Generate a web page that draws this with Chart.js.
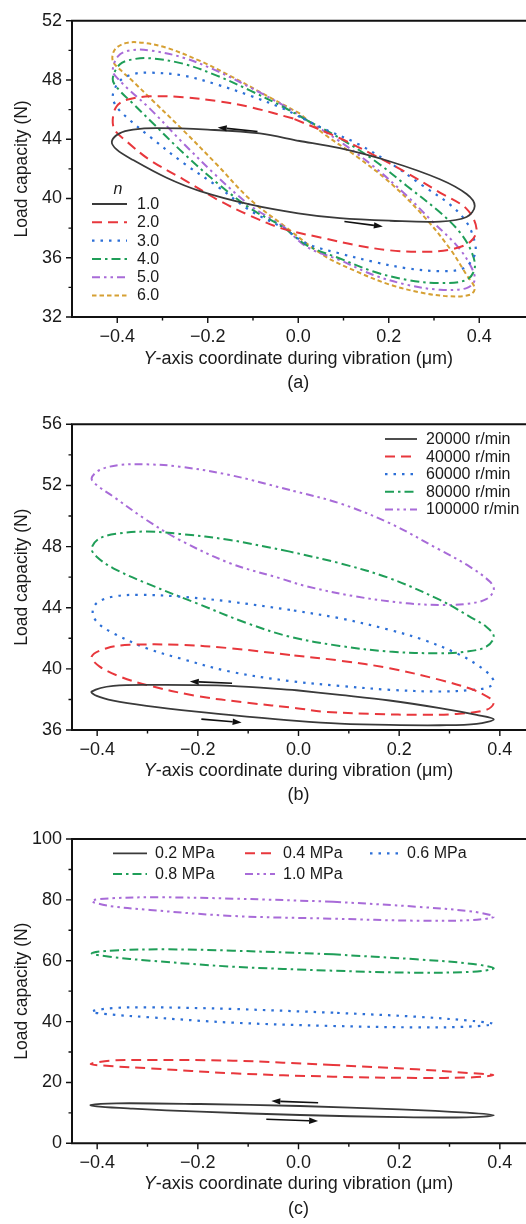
<!DOCTYPE html>
<html><head><meta charset="utf-8">
<script src="https://cdn.jsdelivr.net/npm/chart.js@4.4.0/dist/chart.umd.min.js"></script>
<style>
html,body{margin:0;padding:0;background:#fff;overflow:hidden;width:526px;height:1224px;}
canvas{position:absolute;left:0;display:block;}
</style></head><body>
<canvas id="ca" width="526" height="400" style="top:0px"></canvas>
<canvas id="cb" width="526" height="410" style="top:400px"></canvas>
<canvas id="cc" width="526" height="414" style="top:810px"></canvas>
<script>
// ---------- styles per series ----------
const seriesColors = ['#3a3a3a','#e8373c','#2c6fd7','#1f9e58','#a86bd8','#d6a033'];
const seriesDashes = [[],[10,6],[2.5,6],[9,4,2.5,4],[8,4,2.5,4,2.5,4],[4.5,3]];
const seriesWidths = [1.8,2,2.2,2,2,2];

// ---------- labels ----------
const labelsA = ['1.0','2.0','3.0','4.0','5.0','6.0'];
const labelsB = ['20000 r/min','40000 r/min','60000 r/min','80000 r/min','100000 r/min'];
const labelsC = ['0.2 MPa','0.4 MPa','0.6 MPa','0.8 MPa','1.0 MPa'];

// ---------- ticks ----------
const xTicks = [-0.4,-0.2,0,0.2,0.4];
const xMinor = [-0.3,-0.1,0.1,0.3];
const yTicksA = [32,36,40,44,48,52];
const yMinorA = [34,38,42,46,50];
const yTicksB = [36,40,44,48,52,56];
const yMinorB = [38,42,46,50,54];
const yTicksC = [0,20,40,60,80,100];
const yMinorC = [10,30,50,70,90];

// ---------- panel (a) loops: [Y coordinate (um), load (N)] ----------
const a1 = [[0.0,43.9],[-0.085,44.4],[-0.2,44.65],[-0.313,44.75],[-0.365,44.65],[-0.395,44.4],[-0.412,43.85],[-0.401,43.3],[-0.365,42.6],[-0.291,41.4],[-0.217,40.5],[-0.107,39.6],[0.0,39.0],[0.092,38.67],[0.203,38.5],[0.313,38.44],[0.372,38.75],[0.390,39.5],[0.372,40.3],[0.313,41.3],[0.203,42.5],[0.092,43.4],[0.0,43.9]];
const a2 = [[-0.011,45.4],[-0.107,46.18],[-0.18,46.58],[-0.254,46.84],[-0.328,46.9],[-0.379,46.67],[-0.402,46.2],[-0.41,45.3],[-0.405,44.6],[-0.379,43.85],[-0.328,42.6],[-0.254,41.3],[-0.18,39.95],[-0.107,38.85],[-0.033,37.95],[0.055,37.33],[0.129,36.84],[0.203,36.5],[0.276,36.4],[0.335,36.55],[0.38,37.07],[0.394,37.95],[0.372,39.3],[0.313,40.4],[0.24,41.73],[0.166,42.95],[0.092,44.07],[-0.011,45.4]];
const a3 = [[0.004,45.5],[-0.033,46.07],[-0.107,46.95],[-0.18,47.7],[-0.254,48.3],[-0.328,48.5],[-0.365,48.4],[-0.394,47.95],[-0.41,46.95],[-0.401,46.18],[-0.372,45.29],[-0.328,44.18],[-0.254,42.4],[-0.18,40.85],[-0.107,39.2],[-0.033,38.0],[0.019,36.95],[0.092,36.29],[0.166,35.73],[0.24,35.29],[0.313,35.1],[0.365,35.29],[0.39,36.18],[0.39,37.07],[0.372,38.4],[0.335,39.6],[0.276,40.85],[0.203,42.4],[0.129,43.73],[0.055,44.73],[0.004,45.5]];
const a4 = [[0.019,45.29],[-0.033,46.18],[-0.107,47.3],[-0.18,48.3],[-0.254,49.1],[-0.328,49.47],[-0.365,49.4],[-0.394,49.07],[-0.41,48.07],[-0.398,47.4],[-0.365,46.4],[-0.328,45.29],[-0.254,43.07],[-0.18,41.07],[-0.107,39.35],[-0.033,38.05],[0.019,36.84],[0.092,35.95],[0.166,35.07],[0.24,34.51],[0.313,34.29],[0.372,34.51],[0.39,35.29],[0.383,36.4],[0.357,37.73],[0.313,39.07],[0.24,40.85],[0.166,42.62],[0.092,44.07],[0.019,45.29]];
const a5 = [[0.019,45.29],[-0.033,46.29],[-0.107,47.51],[-0.18,48.62],[-0.254,49.51],[-0.328,50.0],[-0.372,50.0],[-0.398,49.62],[-0.41,48.62],[-0.398,48.07],[-0.372,47.29],[-0.328,46.07],[-0.254,43.73],[-0.18,41.51],[-0.107,39.55],[-0.033,38.1],[0.019,36.73],[0.092,35.84],[0.166,34.84],[0.24,34.18],[0.313,33.84],[0.372,33.95],[0.39,34.51],[0.38,35.51],[0.35,36.84],[0.298,38.4],[0.24,40.18],[0.166,42.18],[0.092,43.85],[0.019,45.29]];
const a6 = [[0.004,45.73],[-0.07,46.95],[-0.144,48.18],[-0.217,49.29],[-0.291,50.18],[-0.342,50.51],[-0.379,50.51],[-0.405,50.07],[-0.41,49.3],[-0.39,48.6],[-0.365,47.9],[-0.328,46.8],[-0.254,44.6],[-0.18,42.3],[-0.107,39.95],[-0.033,38.2],[0.055,36.18],[0.129,35.07],[0.203,34.18],[0.276,33.62],[0.335,33.4],[0.38,33.51],[0.39,33.95],[0.372,34.84],[0.335,36.62],[0.276,38.85],[0.203,41.07],[0.129,42.84],[0.055,44.4],[0.004,45.73]];

// ---------- panel (b) loops ----------
const b1 = [[-0.004,38.6],[-0.136,38.89],[-0.269,38.95],[-0.368,38.89],[-0.411,38.51],[-0.401,38.23],[-0.368,37.92],[-0.302,37.58],[-0.203,37.2],[-0.103,36.88],[-0.004,36.6],[0.082,36.42],[0.181,36.33],[0.281,36.31],[0.354,36.4],[0.388,36.71],[0.354,36.99],[0.281,37.43],[0.181,37.93],[0.082,38.3],[-0.004,38.6]];
const b2 = [[-0.017,40.91],[-0.136,41.35],[-0.236,41.57],[-0.335,41.57],[-0.381,41.35],[-0.411,40.8],[-0.395,40.15],[-0.355,39.5],[-0.302,38.95],[-0.203,38.23],[-0.103,37.79],[-0.004,37.43],[0.049,37.2],[0.148,37.05],[0.248,36.99],[0.314,37.05],[0.373,37.32],[0.388,37.76],[0.38,38.08],[0.347,38.63],[0.281,39.28],[0.181,40.04],[0.082,40.54],[-0.017,40.91]];
const b3 = [[-0.017,43.86],[-0.136,44.4],[-0.236,44.73],[-0.315,44.84],[-0.368,44.73],[-0.401,44.3],[-0.409,43.64],[-0.398,42.98],[-0.368,42.33],[-0.302,41.35],[-0.236,40.69],[-0.136,39.82],[-0.017,39.2],[0.082,38.89],[0.181,38.63],[0.281,38.52],[0.347,38.63],[0.38,38.84],[0.387,39.28],[0.36,40.15],[0.314,41.02],[0.248,41.9],[0.181,42.55],[0.082,43.31],[-0.017,43.86]];
const b4 = [[-0.017,47.67],[-0.136,48.43],[-0.236,48.83],[-0.302,48.98],[-0.355,48.87],[-0.395,48.54],[-0.411,47.89],[-0.401,47.34],[-0.368,46.58],[-0.302,45.6],[-0.203,44.3],[-0.103,43.0],[-0.017,42.1],[0.082,41.5],[0.181,41.13],[0.281,41.02],[0.334,41.13],[0.373,41.45],[0.388,42.11],[0.373,42.76],[0.34,43.42],[0.281,44.51],[0.181,45.93],[0.082,46.91],[-0.017,47.67]];
const b5 = [[-0.017,51.7],[-0.136,52.68],[-0.236,53.23],[-0.302,53.38],[-0.355,53.34],[-0.395,53.01],[-0.411,52.47],[-0.401,52.03],[-0.368,51.27],[-0.302,49.74],[-0.236,48.43],[-0.136,46.91],[-0.037,45.93],[0.016,45.4],[0.115,44.73],[0.215,44.29],[0.281,44.18],[0.334,44.25],[0.373,44.56],[0.388,45.16],[0.38,45.71],[0.34,46.69],[0.281,47.78],[0.181,49.53],[0.082,50.83],[-0.017,51.7]];

// ---------- panel (c) loops ----------
const c1 = [[0.003,12.26],[-0.196,12.91],[-0.362,13.14],[-0.413,12.58],[-0.395,12.03],[-0.329,11.37],[-0.196,10.38],[0.003,9.3],[0.201,8.6],[0.334,8.54],[0.388,9.2],[0.334,10.06],[0.201,11.17],[0.003,12.26]];
const c2 = [[0.069,25.73],[-0.13,27.15],[-0.295,27.37],[-0.375,27.15],[-0.413,26.06],[-0.375,25.4],[-0.295,24.64],[-0.13,23.0],[0.069,21.89],[0.234,21.5],[0.347,21.69],[0.387,22.44],[0.347,23.0],[0.234,24.31],[0.069,25.73]];
const c3 = [[0.069,42.92],[-0.13,44.13],[-0.295,44.69],[-0.375,44.36],[-0.411,43.25],[-0.375,42.38],[-0.295,41.4],[-0.13,39.64],[0.069,38.55],[0.234,38.1],[0.334,38.32],[0.387,39.2],[0.347,40.19],[0.234,41.6],[0.069,42.92]];
const c4 = [[0.069,62.1],[-0.13,63.3],[-0.262,63.74],[-0.375,63.3],[-0.411,62.44],[-0.375,61.33],[-0.295,60.01],[-0.13,58.04],[0.069,56.72],[0.234,56.07],[0.347,56.4],[0.388,57.51],[0.347,58.92],[0.234,60.46],[0.069,62.1]];
const c5 = [[0.069,79.4],[-0.13,80.4],[-0.276,80.84],[-0.375,80.5],[-0.411,79.62],[-0.375,77.98],[-0.295,76.67],[-0.13,74.7],[0.069,73.81],[0.234,73.16],[0.347,73.38],[0.388,74.47],[0.347,76.1],[0.234,77.75],[0.069,79.4]];

// ---------- direction arrows [x1,y1,x2,y2] (tail -> head) ----------
const arrowsA = [[-0.090,44.53,-0.178,44.8],[0.102,38.45,0.187,38.11]];
const arrowsB = [[-0.132,39.06,-0.216,39.17],[-0.193,36.71,-0.113,36.49]];
const arrowsC = [[0.039,13.34,-0.054,13.9],[-0.064,7.89,0.039,7.33]];

// =====================================================
const FONT = "'Liberation Sans', Arial, Helvetica, sans-serif";
const TXT = '#1a1a1a';
Chart.defaults.font.family = FONT;
Chart.defaults.color = TXT;

function mkDataset(loop, i, label){
  return {label, data: loop.map(p=>({x:p[0], y:p[1]})), showLine:true,
    borderColor: seriesColors[i], backgroundColor: seriesColors[i], borderDash: seriesDashes[i],
    borderWidth: seriesWidths[i], pointRadius:0, pointHoverRadius:0, tension:0.35, fill:false,
    borderJoinStyle:'round', borderCapStyle:'butt'};
}
function fmtX(v){ if (Math.abs(v)<1e-9) return '0.0'; return (v<0?'\u2212':'') + Math.abs(v).toFixed(1); }

const framePlugin = {
  id:'frame',
  afterDatasetsDraw(chart, args, o){
    const {ctx, chartArea:a, scales:{x,y}} = chart;
    ctx.save();
    // arrows
    ctx.strokeStyle = '#111'; ctx.fillStyle = '#111'; ctx.lineWidth = 1.6;
    (o.arrows||[]).forEach(r=>{
      const x1=x.getPixelForValue(r[0]), y1=y.getPixelForValue(r[1]);
      const x2=x.getPixelForValue(r[2]), y2=y.getPixelForValue(r[3]);
      const ang=Math.atan2(y2-y1,x2-x1), L=9, W=3.2;
      const bx=x2-L*Math.cos(ang), by=y2-L*Math.sin(ang);
      ctx.beginPath(); ctx.moveTo(x1,y1); ctx.lineTo(bx,by); ctx.stroke();
      ctx.beginPath(); ctx.moveTo(x2,y2);
      ctx.lineTo(bx+W*Math.sin(ang), by-W*Math.cos(ang));
      ctx.lineTo(bx-W*Math.sin(ang), by+W*Math.cos(ang)); ctx.closePath(); ctx.fill();
    });
    // frame
    ctx.strokeStyle = '#111'; ctx.lineWidth = 2;
    ctx.beginPath();
    ctx.moveTo(a.left, a.top); ctx.lineTo(a.right+2, a.top);
    ctx.moveTo(a.left, a.top-1); ctx.lineTo(a.left, a.bottom+1);
    ctx.moveTo(a.left-1, a.bottom); ctx.lineTo(a.right+2, a.bottom);
    ctx.stroke();
    ctx.lineWidth = 1.4;
    ctx.beginPath();
    (o.xMajor||[]).forEach(v=>{const p=x.getPixelForValue(v); ctx.moveTo(p,a.bottom); ctx.lineTo(p,a.bottom+6);});
    (o.xMinor||[]).forEach(v=>{const p=x.getPixelForValue(v); ctx.moveTo(p,a.bottom); ctx.lineTo(p,a.bottom+3.5);});
    (o.yMajor||[]).forEach(v=>{const p=y.getPixelForValue(v); ctx.moveTo(a.left,p); ctx.lineTo(a.left-6,p);});
    (o.yMinor||[]).forEach(v=>{const p=y.getPixelForValue(v); ctx.moveTo(a.left,p); ctx.lineTo(a.left-3.5,p);});
    ctx.stroke();
    // legend
    const lg = o.legend;
    if (lg){
      ctx.font = '16px ' + FONT; ctx.fillStyle = TXT; ctx.textBaseline = 'middle'; ctx.textAlign='left';
      lg.entries.forEach(e=>{
        const ds = chart.data.datasets[e.ds];
        ctx.save(); ctx.strokeStyle = ds.borderColor; ctx.lineWidth = ds.borderWidth; ctx.setLineDash(ds.borderDash);
        ctx.beginPath(); ctx.moveTo(e.x1, e.y); ctx.lineTo(e.x2, e.y); ctx.stroke(); ctx.restore();
        ctx.fillText(ds.label, e.tx, e.y+0.5);
      });
      if (lg.title){ ctx.font = 'italic 16px ' + FONT; ctx.textAlign='center'; ctx.fillText(lg.title.text, lg.title.x, lg.title.y); }
    }
    // axis titles
    ctx.fillStyle = TXT; ctx.textBaseline='alphabetic';
    ctx.font = 'italic 18px ' + FONT; const w1 = ctx.measureText('Y').width;
    ctx.font = '18px ' + FONT; const rest = '-axis coordinate during vibration (\u03bcm)'; const w2 = ctx.measureText(rest).width;
    const cx = (a.left + a.right)/2; const x0 = cx - (w1+w2)/2;
    ctx.textAlign = 'left';
    ctx.font = 'italic 18px ' + FONT; ctx.fillText('Y', x0, o.titleY);
    ctx.font = '18px ' + FONT; ctx.fillText(rest, x0 + w1, o.titleY);
    ctx.textAlign = 'center'; ctx.fillText(o.cap, cx, o.capY);
    ctx.save(); ctx.translate(o.yTitleX, (a.top+a.bottom)/2); ctx.rotate(-Math.PI/2);
    ctx.font = '17.5px ' + FONT; ctx.textAlign='center'; ctx.textBaseline='alphabetic';
    ctx.fillText('Load capacity (N)', 0, 0); ctx.restore();
    ctx.restore();
  }
};

function mkChart(id, loops, labels, cfg){
  const datasets = loops.map((l,i)=>mkDataset(l, i, labels[i]));
  return new Chart(document.getElementById(id), {
    type:'scatter',
    data:{datasets},
    plugins:[framePlugin],
    options:{
      responsive:false, animation:false, events:[],
      layout:{padding:{top:cfg.top, right:cfg.right, left:0, bottom:0}},
      plugins:{legend:{display:false}, tooltip:{enabled:false},
        frame:{arrows:cfg.arrows, xMajor:xTicks, xMinor:xMinor, yMajor:cfg.yTicks, yMinor:cfg.yMinor,
               legend:cfg.legend, titleY:cfg.titleY, capY:cfg.capY, cap:cfg.cap, yTitleX:27}},
      scales:{
        x:{type:'linear', min:cfg.xmin, max:cfg.xmax,
           grid:{display:false, drawTicks:false}, border:{display:false},
           afterBuildTicks:s=>{ s.ticks = xTicks.map(v=>({value:v})); },
           afterFit:s=>{ s.height = cfg.xH; },
           ticks:{padding:9, font:{size:18}, color:TXT, maxRotation:0, callback:v=>fmtX(v)}},
        y:{type:'linear', min:cfg.yTicks[0], max:cfg.yTicks[cfg.yTicks.length-1],
           grid:{display:false, drawTicks:false}, border:{display:false},
           afterBuildTicks:s=>{ s.ticks = cfg.yTicks.map(v=>({value:v})); },
           afterFit:s=>{ s.width = 72; },
           ticks:{padding:10, font:{size:18}, color:TXT, callback:v=>String(v)}}
      }
    }
  });
}

mkChart('ca', [a1,a2,a3,a4,a5,a6], labelsA, {
  top:16, right:1.5, xH:83, xmin:-0.5, xmax:0.5, yTicks:yTicksA, yMinor:yMinorA, arrows:arrowsA,
  titleY:364, capY:388, cap:'(a)',
  legend:{title:{text:'n', x:118, y:190},
    entries:[0,1,2,3,4,5].map(i=>({ds:i, x1:92, x2:127, y:204 + i*18.3, tx:137}))}
});
mkChart('cb', [b1,b2,b3,b4,b5], labelsB, {
  top:24.3, right:1, xH:80, xmin:-0.45, xmax:0.45, yTicks:yTicksB, yMinor:yMinorB, arrows:arrowsB,
  titleY:376, capY:400, cap:'(b)',
  legend:{entries:[0,1,2,3,4].map(i=>({ds:i, x1:385, x2:417, y:39 + i*17.6, tx:426}))}
});
mkChart('cc', [c1,c2,c3,c4,c5], labelsC, {
  top:29, right:1, xH:80.7, xmin:-0.45, xmax:0.45, yTicks:yTicksC, yMinor:yMinorC, arrows:arrowsC,
  titleY:379, capY:404, cap:'(c)',
  legend:{entries:[
    {ds:0, x1:113, x2:147, y:43.3, tx:155},
    {ds:1, x1:245, x2:275, y:43.3, tx:283},
    {ds:2, x1:370, x2:398, y:43.3, tx:407},
    {ds:3, x1:113, x2:147, y:64, tx:155},
    {ds:4, x1:245, x2:275, y:64, tx:283}]}
});
</script>
</body></html>
